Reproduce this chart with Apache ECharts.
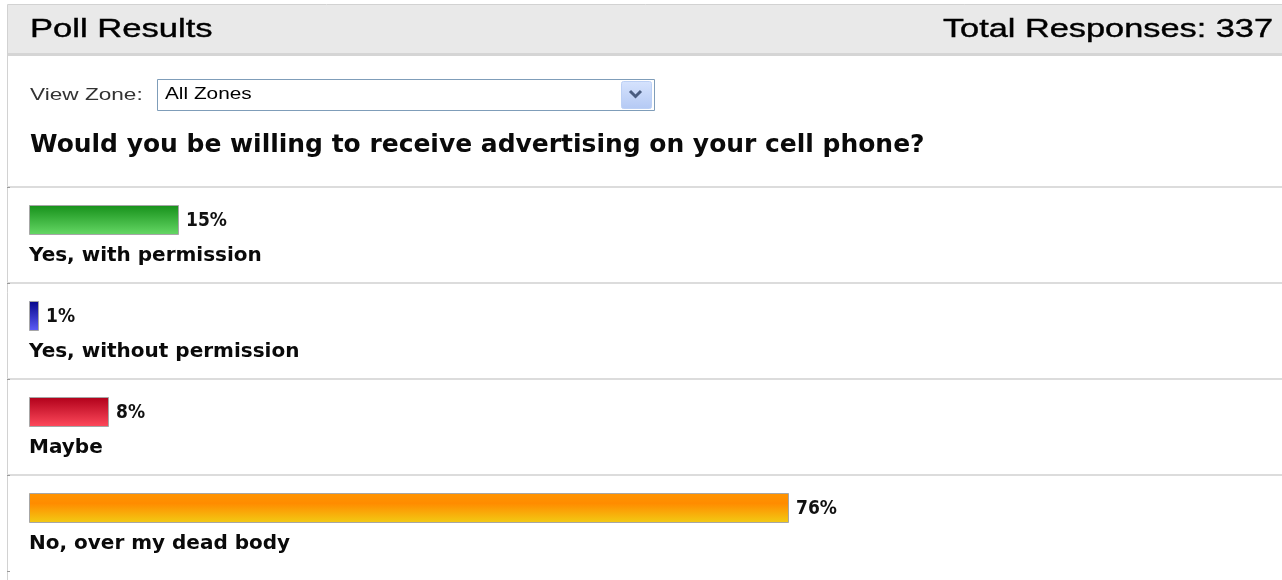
<!DOCTYPE html>
<html>
<head>
<meta charset="utf-8">
<script src="https://cdn.jsdelivr.net/npm/echarts@6/dist/echarts.min.js"></script>
<style>
  html, body { margin: 0; padding: 0; background: #ffffff; overflow: hidden; }
  #chart { width: 1282px; height: 580px; }
</style>
</head>
<body>
<div id="chart"></div>
<script>
// Poll text
const pollTitle = 'Poll Results';
const totalResponses = 337;
const zoneLabel = 'View Zone:';
const zoneValue = 'All Zones';
const question = 'Would you be willing to receive advertising on your cell phone?';

// Answers and their share of responses (%)
const answers = ['Yes, with permission', 'Yes, without permission', 'Maybe', 'No, over my dead body'];
const percents = [15, 1, 8, 76];

// Vertical gradient per answer bar: top colour -> bottom colour
const barTopColors = ['#16901a', '#07078a', '#b0001a', '#ff8c00'];
const barBottomColors = ['#66d866', '#5e5ef8', '#ff4a5c', '#f2cc14'];

const chart = echarts.init(document.getElementById('chart'), null, { renderer: 'canvas' });

const barData = percents.map((v, i) => ({
  value: v,
  itemStyle: {
    color: new echarts.graphic.LinearGradient(0, 0, 0, 1, i === 3
      ? [{ offset: 0, color: '#ff9400' }, { offset: 0.35, color: '#ff8c00' }, { offset: 1, color: barBottomColors[i] }]
      : [{ offset: 0, color: barTopColors[i] }, { offset: 1, color: barBottomColors[i] }])
  }
}));

const option = {
  animation: false,
  backgroundColor: '#ffffff',
  grid: { left: 7, right: 0, top: 187, height: 384 },
  xAxis: {
    type: 'value',
    min: -2.2,
    max: 125.3,
    show: false
  },
  yAxis: {
    type: 'category',
    data: answers,
    inverse: true,
    axisLine: { show: false, onZero: false },
    axisLabel: { show: false },
    axisTick: { show: true, inside: true, length: 3, lineStyle: { color: '#9a9a9a', width: 1 } },
    splitLine: {
      show: true,
      lineStyle: { color: ['#dcdcdc', '#dcdcdc', '#dcdcdc', '#dcdcdc', 'rgba(0,0,0,0)'], width: 2 }
    }
  },
  series: [
    {
      name: 'Responses',
      type: 'bar',
      data: barData,
      barWidth: 30,
      barGap: '0%',
      itemStyle: { borderColor: '#a6a6a6', borderWidth: 1 },
      label: {
        show: true,
        position: 'right',
        distance: 7,
        offset: [0, 1],
        formatter: '{c}%',
        fontFamily: '"DejaVu Sans Condensed", "DejaVu Sans", sans-serif',
        fontWeight: 'bold',
        fontSize: 19,
        color: '#111111'
      }
    },
    {
      name: 'Answer',
      type: 'bar',
      data: percents,
      barWidth: 30,
      barGap: '0%',
      silent: true,
      itemStyle: { color: 'rgba(0,0,0,0)' },
      label: {
        show: true,
        position: 'insideLeft',
        distance: 0,
        offset: [0, 6],
        formatter: '{b}',
        fontFamily: '"DejaVu Sans", sans-serif',
        fontWeight: 'bold',
        fontSize: 20,
        color: '#0a0a0a'
      }
    }
  ],
  graphic: [
    // panel frame
    { type: 'rect', z: 0, shape: { x: 7.5, y: 4.5, width: 1300, height: 600 }, style: { fill: 'none', stroke: '#d2d2d2', lineWidth: 1 } },
    // header band
    { type: 'rect', z: 1, shape: { x: 8, y: 5, width: 1300, height: 48 }, style: { fill: '#e9e9e9' } },
    { type: 'rect', z: 1, shape: { x: 8, y: 53, width: 1300, height: 3 }, style: { fill: '#d5d5d5' } },
    {
      type: 'text', z: 2, x: 30, y: 30, scaleX: 1.33,
      style: { text: pollTitle, font: '26px "Liberation Sans", Arial, sans-serif', fill: '#000000', stroke: '#000000', lineWidth: 0.4, align: 'left', verticalAlign: 'middle' }
    },
    {
      type: 'text', z: 2, x: 1273, y: 30, scaleX: 1.32,
      style: { text: 'Total Responses: ' + totalResponses, font: '26px "Liberation Sans", Arial, sans-serif', fill: '#000000', stroke: '#000000', lineWidth: 0.4, align: 'right', verticalAlign: 'middle' }
    },
    // zone selector
    {
      type: 'text', z: 2, x: 30, y: 95, scaleX: 1.33,
      style: { text: zoneLabel, font: '17px "Liberation Sans", Arial, sans-serif', fill: '#333333', align: 'left', verticalAlign: 'middle' }
    },
    { type: 'rect', z: 2, shape: { x: 157.5, y: 79.5, width: 497, height: 31 }, style: { fill: '#ffffff', stroke: '#7f9db9', lineWidth: 1 } },
    {
      type: 'text', z: 3, x: 165, y: 95, scaleX: 1.3,
      style: { text: zoneValue, font: '16px "Liberation Sans", Arial, sans-serif', fill: '#000000', align: 'left', verticalAlign: 'middle' }
    },
    {
      type: 'rect', z: 3, shape: { x: 621.5, y: 81.5, width: 30, height: 27, r: 2 },
      style: {
        fill: new echarts.graphic.LinearGradient(0, 0, 0, 1, [{ offset: 0, color: '#d6e3fd' }, { offset: 1, color: '#b4c9f4' }]),
        stroke: '#bcd0f5', lineWidth: 1
      }
    },
    {
      type: 'polyline', z: 4, shape: { points: [[630, 91], [635.5, 96.5], [641, 91]] },
      style: { stroke: '#4a5d80', lineWidth: 3, fill: 'none' }
    },
    // question
    {
      type: 'text', z: 2, x: 30, y: 146, scaleX: 1.04,
      style: { text: question, font: 'bold 24px "DejaVu Sans", Verdana, sans-serif', fill: '#0a0a0a', align: 'left', verticalAlign: 'middle' }
    }
  ]
};

chart.setOption(option);
</script>
</body>
</html>
